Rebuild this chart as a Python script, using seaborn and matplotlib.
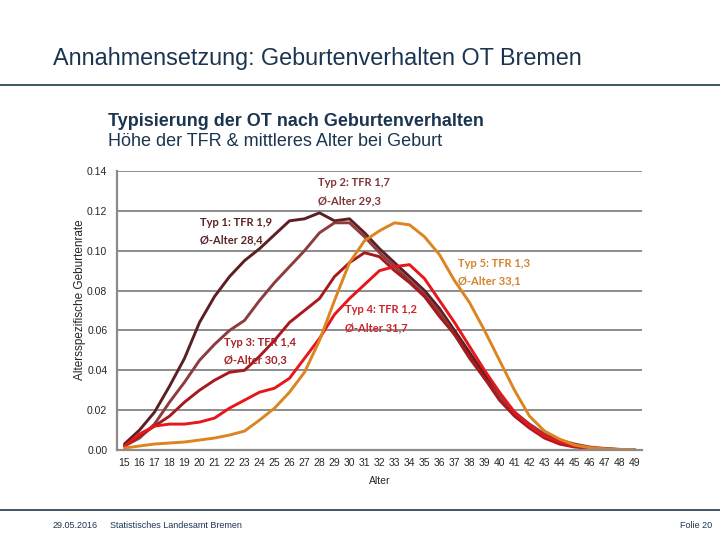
import matplotlib
matplotlib.use('Agg')
import matplotlib.pyplot as plt
import numpy as np
import pandas as pd
import seaborn as sns

# Altersspezifische Geburtenraten je Typ (Alter 15-49)
alter = list(range(15, 50))

typ1 = [0.003, 0.010, 0.019, 0.032, 0.046, 0.064, 0.077, 0.087, 0.095, 0.101,
        0.108, 0.115, 0.116, 0.119, 0.115, 0.116, 0.109, 0.101, 0.094, 0.087,
        0.080, 0.071, 0.060, 0.049, 0.038, 0.027, 0.019, 0.012, 0.007, 0.004,
        0.002, 0.001, 0.0005, 0.0002, 0.0001]
typ2 = [0.002, 0.006, 0.013, 0.024, 0.034, 0.045, 0.053, 0.060, 0.065, 0.075,
        0.084, 0.092, 0.100, 0.109, 0.114, 0.114, 0.107, 0.099, 0.092, 0.085,
        0.078, 0.069, 0.058, 0.046, 0.036, 0.027, 0.019, 0.013, 0.008, 0.005,
        0.003, 0.0015, 0.0008, 0.0003, 0.0001]
typ3 = [0.002, 0.007, 0.012, 0.017, 0.024, 0.030, 0.035, 0.039, 0.040, 0.047,
        0.055, 0.064, 0.070, 0.076, 0.087, 0.094, 0.099, 0.097, 0.090, 0.084,
        0.077, 0.067, 0.058, 0.047, 0.036, 0.025, 0.017, 0.011, 0.006, 0.003,
        0.0015, 0.0008, 0.0004, 0.0002, 0.0001]
typ4 = [0.002, 0.008, 0.012, 0.013, 0.013, 0.014, 0.016, 0.021, 0.025, 0.029,
        0.031, 0.036, 0.046, 0.056, 0.068, 0.076, 0.083, 0.090, 0.092, 0.093,
        0.086, 0.075, 0.064, 0.052, 0.040, 0.029, 0.019, 0.012, 0.007, 0.004,
        0.002, 0.001, 0.0005, 0.0002, 0.0001]
typ5 = [0.001, 0.002, 0.003, 0.0035, 0.004, 0.005, 0.006, 0.0075, 0.0095, 0.015,
        0.021, 0.029, 0.039, 0.055, 0.075, 0.094, 0.105, 0.110, 0.114, 0.113,
        0.107, 0.098, 0.085, 0.074, 0.060, 0.045, 0.030, 0.017, 0.0095, 0.0055,
        0.0025, 0.0012, 0.0006, 0.0003, 0.0002]

typen = ['Typ 1', 'Typ 2', 'Typ 3', 'Typ 4', 'Typ 5']
tfr = ['1,9', '1,7', '1,4', '1,2', '1,3']
mittl_alter = ['28,4', '29,3', '30,3', '31,7', '33,1']
farben = ['#5c1f22', '#8c3c3e', '#a8191e', '#e6161b', '#dc841f']
text_farben = ['#5a2426', '#7d3538', '#a5222a', '#c9252b', '#d4842c']

df = pd.DataFrame({
    'Alter': alter * 5,
    'Rate': typ1 + typ2 + typ3 + typ4 + typ5,
    'Typ': [t for t in typen for _ in alter],
})

sns.set_style('white')
plt.rcParams['font.family'] = ['Liberation Sans', 'DejaVu Sans']

fig = plt.figure(figsize=(7.2, 5.4), dpi=100)

# Kopfzeile
fig.text(0.073, 1 - 58 / 540, 'Annahmensetzung: Geburtenverhalten OT Bremen',
         fontsize=16.8, color='#1b3550', va='center')
fig.add_artist(plt.Line2D([0, 1], [1 - 85 / 540] * 2, color='#1f3a4a', lw=1.2))
fig.text(0.150, 1 - 121 / 540, 'Typisierung der OT nach Geburtenverhalten',
         fontsize=13, fontweight='bold', color='#1b3550', va='center')
fig.text(0.150, 1 - 142 / 540, 'Höhe der TFR & mittleres Alter bei Geburt',
         fontsize=13, color='#1b3550', va='center')

# Fußzeile
fig.add_artist(plt.Line2D([0, 1], [1 - 510 / 540] * 2, color='#1f3a4a', lw=1.2))
fig.text(0.073, 1 - 526 / 540, '29.05.2016', fontsize=6.5, color='#1b3550', va='center')
fig.text(0.153, 1 - 526 / 540, 'Statistisches Landesamt Bremen', fontsize=6.5,
         color='#1b3550', va='center')
fig.text(0.945, 1 - 526 / 540, 'Folie 20', fontsize=6.5, color='#1b3550', va='center')

ax = fig.add_axes([117 / 720, 1 - 450 / 540, 525 / 720, 279 / 540])
sns.lineplot(data=df, x='Alter', y='Rate', hue='Typ', palette=dict(zip(typen, farben)),
             linewidth=2.1, legend=False, ax=ax)

ax.set_xlim(14.5, 49.5)
ax.set_ylim(0, 0.14)
ax.set_yticks(np.arange(0, 0.141, 0.02))
ax.set_yticklabels([f'{v:.2f}' for v in np.arange(0, 0.141, 0.02)])
ax.set_xticks(alter)
ax.set_xticks(np.arange(14.5, 50, 1), minor=True)
ax.tick_params(axis='x', which='major', length=0, labelsize=7.5, pad=6)
ax.tick_params(axis='x', which='minor', length=4, width=1.2, color='#8c8c8c', direction='out')
ax.tick_params(axis='y', length=5, width=1.2, color='#8c8c8c', direction='out', labelsize=7.5, pad=2)
ax.grid(axis='y', color='#8c8c8c', linewidth=1.4)
ax.set_axisbelow(True)
for s in ['top', 'right']:
    ax.spines[s].set_visible(False)
for s in ['left', 'bottom']:
    ax.spines[s].set_color('#8c8c8c')
    ax.spines[s].set_linewidth(1.6)

ax.set_xlabel('Alter', fontsize=7.5)
ax.xaxis.set_label_coords(0.5, -0.093)
ax.set_ylabel('Altersspezifische Geburtenrate', fontsize=8.5)
ax.yaxis.set_label_coords(-0.060, 0.538)

# Beschriftungen der Typen
text_pos = [(20.0, 0.1099), (27.9, 0.1297), (21.6, 0.0497), (29.7, 0.0660), (37.2, 0.0891)]
for typ, t, a, (x, y), c in zip(typen, tfr, mittl_alter, text_pos, text_farben):
    ax.text(x, y, f'{typ}: TFR {t}\nØ-Alter {a}', fontsize=8, fontweight='bold',
            color=c, va='center', ha='left', linespacing=1.75,
            family=['Lato', 'DejaVu Sans'])

fig.savefig('out.png', dpi=100)
